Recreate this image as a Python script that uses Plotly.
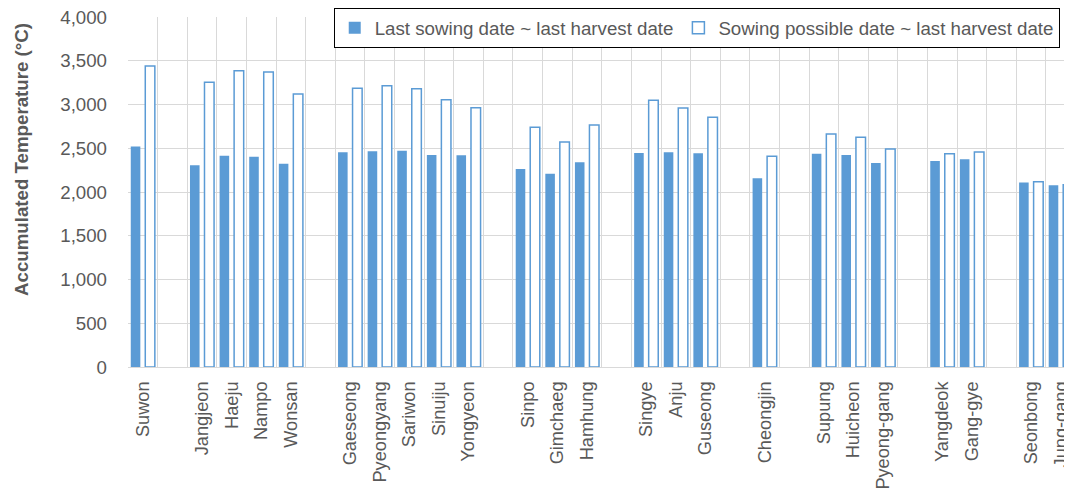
import plotly.graph_objects as go

# Category slots ("" marks an empty spacer slot between groups)
stations = ["Suwon", "",
            "Jangjeon", "Haeju", "Nampo", "Wonsan", "",
            "Gaeseong", "Pyeongyang", "Sariwon", "Sinuiju", "Yongyeon", "",
            "Sinpo", "Gimchaeg", "Hamhung", "",
            "Singye", "Anju", "Guseong", "",
            "Cheongjin", "",
            "Supung", "Huicheon", "Pyeong-gang", "",
            "Yangdeok", "Gang-gye", "",
            "Seonbong", "Jung-gang"]

last_sowing = [2520, None,
               2305, 2415, 2404, 2324, None,
               2453, 2465, 2472, 2423, 2419, None,
               2263, 2210, 2339, None,
               2446, 2453, 2442, None,
               2156, None,
               2438, 2423, 2331, None,
               2354, 2373, None,
               2110, 2076]

sowing_possible = [3440, None,
                   3253, 3387, 3371, 3120, None,
                   3185, 3215, 3181, 3055, 2964, None,
                   2739, 2571, 2766, None,
                   3048, 2960, 2853, None,
                   2408, None,
                   2663, 2625, 2491, None,
                   2438, 2457, None,
                   2118, 2084]

y_ticks = [0, 500, 1000, 1500, 2000, 2500, 3000, 3500, 4000]

# unique category keys (spacers get distinct whitespace names)
cats = []
n_blank = 0
for s in stations:
    if s == "":
        n_blank += 1
        cats.append(" " * n_blank)
    else:
        cats.append(s)

BLUE = "#5B9BD5"
TXT = "#595959"
FONT = "Arial, Liberation Sans, sans-serif"
FS = 18.7

fig = go.Figure()
fig.add_trace(go.Bar(
    x=cats, y=last_sowing, name="Last sowing date ~ last harvest date",
    marker=dict(color=BLUE, line=dict(width=0)),
))
fig.add_trace(go.Bar(
    x=cats, y=sowing_possible, name="Sowing possible date ~ last harvest date",
    marker=dict(color="white", line=dict(color=BLUE, width=1.5)),
))

# page body has an 8px margin, so the figure is sized/offset to compensate
fig.update_layout(
    width=1064, height=483,
    margin=dict(l=120, r=0, t=9, b=124, autoexpand=False),
    paper_bgcolor="white", plot_bgcolor="white",
    barmode="group", bargap=0.02, bargroupgap=0.34,
    font=dict(family=FONT, size=FS, color=TXT),
    showlegend=True,
    legend=dict(
        orientation="h", x=0.987, xanchor="right", y=(367 - 8) / 350, yanchor="top",
        bordercolor="black", borderwidth=1, bgcolor="white",
        font=dict(family=FONT, size=FS, color=TXT),
    ),
    xaxis=dict(
        type="category", categoryorder="array", categoryarray=cats,
        range=[-0.5, 31.38], automargin=False, ticklabeloverflow="allow",
        tickson="boundaries", showgrid=True, gridcolor="#D9D9D9", gridwidth=1.3,
        tickangle=-90, ticks="", ticklabelstandoff=6,
        showline=True, linecolor="#D9D9D9", linewidth=1.3,
        tickfont=dict(family=FONT, size=18.2, color=TXT),
    ),
    yaxis=dict(
        range=[0, 4000], tickvals=y_ticks, tickformat=",", automargin=False,
        ticklabeloverflow="allow",
        showgrid=True, gridcolor="#D9D9D9", gridwidth=1.3,
        zeroline=False, ticks="", ticklabelstandoff=20,
        tickfont=dict(family=FONT, size=FS, color=TXT),
    ),
    annotations=[dict(
        text="<b>Accumulated Temperature (°C)</b>", textangle=-90,
        xref="paper", yref="paper", x=(21 - 128) / 944, y=(367 - 160) / 350,
        xanchor="center", yanchor="middle", showarrow=False,
        font=dict(family=FONT, size=FS, color=TXT),
    )],
)

fig.write_html("out.html")
